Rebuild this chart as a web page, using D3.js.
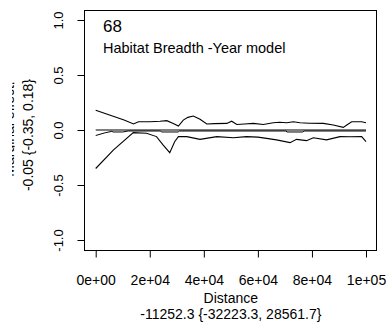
<!DOCTYPE html>
<html><head><meta charset="utf-8">
<script src="https://cdn.jsdelivr.net/npm/d3@7/dist/d3.min.js"></script>
<style>body{margin:0;background:#fff}svg{display:block}text{font-family:"Liberation Sans",Arial,sans-serif;fill:#000}</style>
</head><body><div id="chart"></div>
<script>
const xTicks = [0, 20000, 40000, 60000, 80000, 100000];
const xTickLabels = ["0e+00","2e+04","4e+04","6e+04","8e+04","1e+05"];
const yTicks = [-1, -0.5, 0, 0.5, 1];
const yTickLabels = ["-1.0","-0.5","0.0","0.5","1.0"];

const upperX = [0,3500,7000,10500,14000,15800,20100,23800,26300,28700,30600,32400,34100,36100,38600,41100,44000,48500,50300,52200,55000,58300,62000,65700,68000,70700,73100,75600,79000,84200,87900,91600,92900,94700,98400,100000];
const upperY = [0.18,0.15,0.12,0.09,0.055,0.075,0.075,0.08,0.085,0.06,0.036,0.09,0.115,0.127,0.097,0.055,0.058,0.06,0.08,0.05,0.055,0.06,0.05,0.066,0.07,0.066,0.075,0.066,0.062,0.06,0.045,0.024,0.045,0.075,0.075,0.066];

const lowerX = [0,6600,13900,18800,22500,24900,27400,29200,30600,33700,38600,44800,50900,55800,60000,63200,66900,71900,74300,78000,80500,85400,90400,94000,98400,100000];
const lowerY = [-0.35,-0.18,-0.024,-0.03,-0.06,-0.136,-0.206,-0.106,-0.06,-0.06,-0.085,-0.06,-0.07,-0.06,-0.065,-0.076,-0.09,-0.115,-0.085,-0.097,-0.07,-0.09,-0.06,-0.062,-0.06,-0.106];

const estX = [0,3500,6000,6400,10000,12000,24000,24300,30500,31000,70500,70700,76700,77000,100000];
const estY = [-0.05,-0.025,-0.012,-0.018,-0.018,-0.009,-0.009,-0.018,-0.018,-0.009,-0.009,-0.018,-0.018,-0.009,-0.009];

const title1 = "68";
const title2 = "Habitat Breadth -Year model";
const xLabel = "Distance";
const xSub = "-11252.3 {-32223.3, 28561.7}";
const yLabel = "-0.05 {-0.35, 0.18}";
const yHidden = "Marginal effect,";

const W = 386, H = 329;
const box = {l: 84.5, r: 376.5, t: 10.5, b: 250.5};
const x = d3.scaleLinear().domain([0, 100000]).range([95.7, 366]);
const y = d3.scaleLinear().domain([-1, 1]).range([240, 20]);
const FONT = "Liberation Sans, Arial, sans-serif";

const svg = d3.select("#chart").append("svg").attr("width", W).attr("height", H);

svg.append("rect").attr("x", box.l).attr("y", box.t).attr("width", box.r - box.l).attr("height", box.b - box.t)
  .attr("fill", "none").attr("stroke", "#000").attr("stroke-width", 1);

// axes
const xAxis = d3.axisBottom(x).tickValues(xTicks).tickSize(7).tickPadding(0)
  .tickFormat((d, i) => xTickLabels[i]);
const gx = svg.append("g").attr("transform", `translate(0,${box.b})`).call(xAxis);
gx.select(".domain").attr("d", `M${x(0)},0H${x(100000)}`);
gx.selectAll(".tick text").attr("font-size", 14).attr("font-family", FONT).attr("fill", "#000")
  .attr("y", 34.5).attr("dy", 0);

const yAxis = d3.axisLeft(y).tickValues(yTicks).tickSize(7).tickPadding(0).tickFormat((d, i) => yTickLabels[i]);
const gy = svg.append("g").attr("transform", `translate(${box.l},0)`).call(yAxis);
gy.select(".domain").attr("d", `M0,${y(-1)}V${y(1)}`);
gy.selectAll(".tick text").attr("font-size", 13).attr("font-family", FONT).attr("fill", "#000")
  .attr("x", 0).attr("y", 0).attr("dy", 0).attr("text-anchor", "middle")
  .attr("transform", "translate(-22,0) rotate(-90)");

// lines
const lineGen = d3.line().x(d => x(d[0])).y(d => y(d[1]));
const zip = (a, b) => a.map((v, i) => [v, b[i]]);

svg.append("path").datum([[0, 0], [100000, 0]]).attr("d", lineGen)
  .attr("stroke", "#000").attr("stroke-width", 1.1).attr("fill", "none");
svg.append("path").datum(zip(estX, estY)).attr("d", lineGen)
  .attr("stroke", "#000").attr("stroke-width", 1).attr("fill", "none");
svg.append("path").datum(zip(upperX, upperY)).attr("d", lineGen)
  .attr("stroke", "#000").attr("stroke-width", 1.1).attr("fill", "none");
svg.append("path").datum(zip(lowerX, lowerY)).attr("d", lineGen)
  .attr("stroke", "#000").attr("stroke-width", 1.1).attr("fill", "none");

// texts
svg.append("text").attr("x", 103).attr("y", 32).attr("font-size", 17).text(title1);
svg.append("text").attr("x", 103).attr("y", 53).attr("font-size", 14.5).text(title2);
svg.append("text").attr("x", (x(0) + x(100000)) / 2).attr("y", 303).attr("font-size", 14)
  .attr("text-anchor", "middle").text(xLabel);
svg.append("text").attr("x", (x(0) + x(100000)) / 2).attr("y", 319).attr("font-size", 14)
  .attr("text-anchor", "middle").text(xSub);
svg.append("text").attr("transform", `translate(33,135) rotate(-90)`).attr("font-size", 14)
  .attr("text-anchor", "middle").text(yLabel);

svg.append("clipPath").attr("id", "cl").append("rect").attr("x", 12).attr("y", 0).attr("width", 2.5).attr("height", H);
svg.append("g").attr("clip-path", "url(#cl)").append("text")
  .attr("transform", `translate(14,129) rotate(-90)`).attr("font-size", 14)
  .attr("text-anchor", "middle").text(yHidden);
</script></body></html>
